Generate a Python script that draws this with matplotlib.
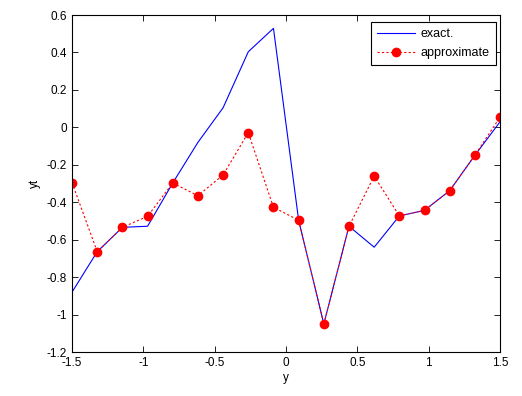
import numpy as np
import matplotlib
matplotlib.use('Agg')
import matplotlib.pyplot as plt

# sample points
y = np.linspace(-1.5, 1.5, 18)
yt_exact = [-0.88, -0.664, -0.534, -0.528, -0.297, -0.08, 0.105, 0.404, 0.529,
            -0.496, -1.05, -0.528, -0.64, -0.473, -0.443, -0.338, -0.149, 0.03]
yt_approx = [-0.295, -0.664, -0.534, -0.475, -0.297, -0.365, -0.254, -0.028, -0.427,
             -0.496, -1.05, -0.528, -0.26, -0.473, -0.443, -0.338, -0.149, 0.055]

xticks = [-1.5, -1, -0.5, 0, 0.5, 1, 1.5]
yticks = [-1.2, -1, -0.8, -0.6, -0.4, -0.2, 0, 0.2, 0.4, 0.6]

plt.rcParams['font.family'] = ['Liberation Sans', 'DejaVu Sans']
plt.rcParams['font.size'] = 8.5

fig = plt.figure(figsize=(5.22, 3.96), dpi=100)
ax = fig.add_axes([0.138, 0.111, 0.82, 0.851])

ax.plot(y, yt_exact, color='blue', lw=0.8, label='exact.')
ax.plot(y, yt_approx, color='red', lw=0.8, linestyle=(0, (2, 2)),
        marker='o', markersize=6, markerfacecolor='red', markeredgecolor='red',
        label='approximate')

ax.set_xlim(-1.5, 1.5)
ax.set_ylim(-1.2, 0.6)
ax.set_xticks(xticks)
ax.set_xticklabels([f'{t:g}' for t in xticks])
ax.set_yticks(yticks)
ax.set_yticklabels([f'{t:g}' for t in yticks])
ax.tick_params(direction='in', top=True, right=True, length=4, width=0.6)
for s in ax.spines.values():
    s.set_linewidth(0.8)

ax.set_xlabel('y', labelpad=2)
ax.set_ylabel('yt', labelpad=4)

leg = ax.legend(loc='upper right', bbox_to_anchor=(0.99, 0.98), borderaxespad=0,
                fancybox=False, edgecolor='black', framealpha=1, fontsize=9,
                handlelength=3.0, handletextpad=0.45, labelspacing=0.55,
                borderpad=0.5)
leg.get_frame().set_linewidth(0.8)

plt.savefig('out.png', dpi=100)
